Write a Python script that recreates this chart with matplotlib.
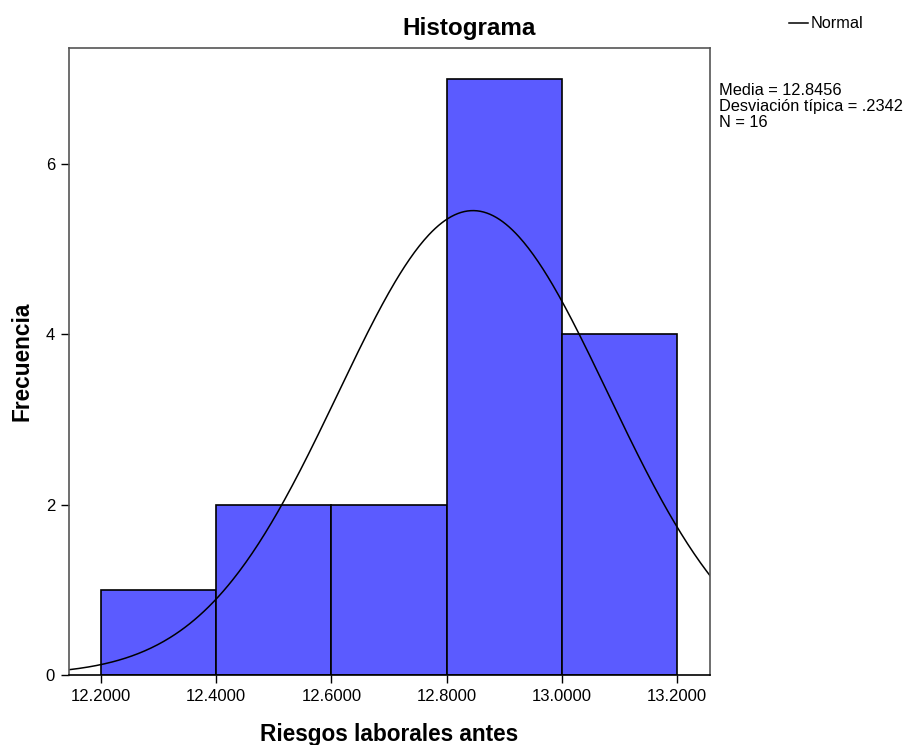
import numpy as np
import matplotlib.pyplot as plt

plt.rcParams['font.family'] = ['Liberation Sans', 'DejaVu Sans']

# bin edges and counts of "Riesgos laborales antes"
bin_edges = [12.2, 12.4, 12.6, 12.8, 13.0, 13.2]
counts = [1, 2, 2, 7, 4]
media = 12.8456
desv = 0.2342
n = 16
xticks = [12.2, 12.4, 12.6, 12.8, 13.0, 13.2]
yticks = [0, 2, 4, 6]

fig = plt.figure(figsize=(9.08, 7.45), dpi=100)
ax = fig.add_axes([0.076, 0.094, 0.706, 0.8416])

widths = np.diff(bin_edges)
ax.bar(bin_edges[:-1], counts, width=widths, align='edge',
       color='#5B5BFF', edgecolor='black', linewidth=1.2)

# normal curve scaled to the histogram
x0, x1 = 12.1445, 13.257
xs = np.linspace(x0, x1, 400)
bw = widths[0]
ys = n * bw / (desv * np.sqrt(2 * np.pi)) * np.exp(-0.5 * ((xs - media) / desv) ** 2)
line, = ax.plot(xs, ys, color='black', linewidth=1.1)

ax.set_xlim(x0, x1)
ax.set_ylim(0, 7.36)
ax.set_xticks(xticks)
ax.set_xticklabels(['%.4f' % v for v in xticks], fontsize=12)
ax.set_yticks(yticks)
ax.set_yticklabels([str(v) for v in yticks], fontsize=12)
ax.tick_params(direction='out', length=6, width=1, colors='black', pad=4)
for s in ax.spines.values():
    s.set_color('#555555')
    s.set_linewidth(1.2)
ax.spines['bottom'].set_color('black')

fig.text(0.5165, 0.962, 'Histograma', fontsize=17.5, fontweight='bold',
         ha='center', va='center')
ax.set_xlabel('Riesgos laborales antes', fontsize=16.3, fontweight='bold', labelpad=14)
ax.set_ylabel('Frecuencia', fontsize=16.3, fontweight='bold', labelpad=9)

fig.legend([line], ['Normal'], loc='center left', bbox_to_anchor=(0.869, 0.968),
           frameon=False, fontsize=11.7, handlelength=1.15, handletextpad=0.15,
           borderpad=0, borderaxespad=0)
fig.text(0.792, 0.889, 'Media = %.4f\nDesviación típica = .%s\nN = %d'
         % (media, ('%.4f' % desv)[2:], n),
         fontsize=11.8, va='top', ha='left', linespacing=1.1)

fig.savefig('out.png', dpi=100)
